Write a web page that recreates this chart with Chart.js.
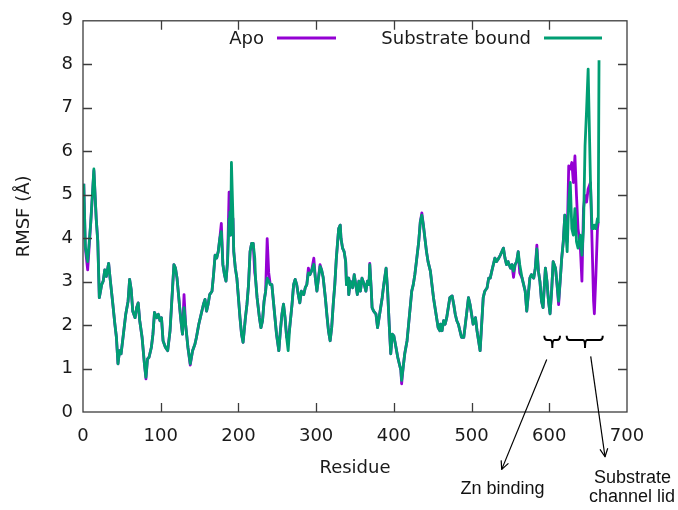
<!DOCTYPE html>
<html><head><meta charset="utf-8">
<script src="https://cdn.jsdelivr.net/npm/chart.js@4.4.1/dist/chart.umd.min.js"></script>
<style>html,body{margin:0;padding:0;background:#fff;}canvas{display:block;}</style>
</head><body>
<canvas id="c" width="678" height="510"></canvas>
<script>
// ---- data ----
const residues = [1,3,6,10,14,17,19,21,24,26,28,30,33,35,38,41,43,45,47,49,52,55,58,60,62,64,67,69,71,73,76,79,81,83,85,88,90,92,95,97,99,101,103,106,109,112,115,117,119,121,124,126,128,130,132,135,138,141,144,146,149,152,155,157,159,161,163,166,168,170,172,174,176,178,180,182,184,186,188,189,190,191,193,194,196,198,200,202,204,206,209,211,213,215,217,219,221,222,224,227,229,231,233,235,237,239,241,243,245,247,249,252,254,256,258,260,262,264,266,269,271,273,275,277,279,281,284,286,288,290,292,294,297,299,301,303,305,307,309,312,314,316,318,320,322,324,326,329,331,332,334,336,338,339,341,342,344,347,349,351,353,355,357,359,362,364,366,368,369,371,372,374,377,379,381,383,385,387,390,392,394,396,398,400,402,405,407,409,410,412,414,417,419,421,423,425,427,429,432,434,436,438,440,442,444,447,449,451,453,455,457,459,460,462,464,466,468,470,472,475,477,479,481,483,485,487,490,492,494,496,498,500,502,505,507,509,511,513,515,517,520,522,524,526,528,530,532,535,537,539,541,543,545,547,550,552,554,556,558,560,562,565,567,569,571,573,575,577,580,582,584,586,588,590,592,595,597,599,601,603,605,608,610,612,614,616,618,620,621,623,625,627,629,631,633,635,637,640,642,644,646,648,650,653,655,657,658,660,662,663,664];
const apo = [5.25,3.77,3.27,4.37,5.55,4.45,3.95,2.63,2.93,3.01,3.27,3.12,3.42,3.05,2.55,2.02,1.72,1.11,1.41,1.34,1.79,2.25,2.55,3.05,2.82,2.32,2.17,2.40,2.51,2.10,1.72,1.11,0.76,1.22,1.26,1.49,1.79,2.29,2.17,2.25,2.10,2.17,1.64,1.49,1.41,1.87,2.78,3.39,3.31,3.08,2.48,2.10,1.79,2.70,2.02,1.49,1.08,1.41,1.56,1.72,2.02,2.25,2.48,2.59,2.32,2.48,2.70,2.78,3.16,3.61,3.54,3.69,3.99,4.34,3.39,3.16,3.01,3.46,5.06,4.50,4.07,4.50,4.45,3.69,3.31,3.08,2.63,2.17,1.79,1.60,2.17,2.48,2.93,3.69,3.88,3.88,3.20,3.08,2.63,2.17,1.94,2.10,2.55,2.78,3.99,3.20,2.93,2.93,2.55,2.17,1.79,1.41,1.87,2.25,2.48,2.17,1.72,1.72,1.94,2.48,2.93,3.05,2.93,2.70,2.51,2.78,2.70,2.86,2.93,3.31,3.16,3.24,3.54,3.08,2.78,3.08,3.39,3.27,3.10,2.60,2.20,1.85,1.64,1.94,2.48,2.93,3.54,4.22,4.30,3.99,3.77,3.69,3.46,2.93,3.08,2.70,3.01,2.86,3.16,2.93,2.70,3.01,2.78,3.08,2.93,2.78,3.01,2.93,3.42,2.78,2.40,2.32,2.25,1.94,2.17,2.40,2.63,2.93,3.31,2.78,2.02,1.34,1.79,1.75,1.56,1.26,1.11,0.96,0.65,1.03,1.34,1.64,2.02,2.40,2.78,2.93,3.16,3.46,3.92,4.37,4.58,4.30,3.99,3.69,3.46,3.24,2.93,2.63,2.40,2.17,1.94,1.87,2.02,1.87,2.10,2.02,2.17,2.40,2.63,2.67,2.48,2.25,2.10,2.02,1.87,1.72,1.72,2.02,2.32,2.63,2.48,2.25,2.02,2.17,1.87,1.64,1.41,2.02,2.63,2.78,2.86,3.08,3.08,3.24,3.39,3.54,3.46,3.54,3.61,3.69,3.77,3.54,3.39,3.46,3.31,3.39,3.10,3.39,3.46,3.69,3.20,3.08,2.93,2.78,2.32,2.70,3.08,3.16,3.08,3.31,3.84,3.24,3.00,2.55,2.40,3.31,3.01,2.55,2.26,2.78,3.46,3.31,2.93,2.47,3.01,3.54,3.92,4.53,4.22,3.92,5.66,5.59,5.74,5.28,5.89,4.98,4.22,3.77,3.01,4.68,4.98,4.83,5.13,5.28,3.92,2.55,2.26,3.16,4.22,4.37,null];
const bound = [5.25,3.80,3.46,4.37,5.59,4.45,3.92,2.63,2.93,3.01,3.27,3.12,3.42,3.05,2.55,2.02,1.72,1.11,1.41,1.34,1.79,2.25,2.55,3.05,2.82,2.32,2.17,2.40,2.51,2.10,1.72,1.11,0.80,1.22,1.26,1.49,1.79,2.29,2.17,2.25,2.10,2.17,1.64,1.49,1.41,1.87,2.78,3.39,3.31,3.08,2.48,2.10,1.79,2.40,2.02,1.49,1.11,1.41,1.56,1.72,2.02,2.25,2.48,2.59,2.32,2.48,2.70,2.78,3.16,3.61,3.54,3.69,3.99,4.15,3.39,3.16,3.01,3.46,4.45,4.60,4.07,5.74,4.45,3.69,3.31,3.08,2.63,2.17,1.79,1.60,2.17,2.48,2.93,3.69,3.88,3.88,3.54,3.08,2.63,2.17,1.94,2.10,2.55,2.78,3.08,3.01,2.93,2.93,2.55,2.17,1.79,1.41,1.87,2.25,2.48,2.17,1.72,1.41,1.94,2.48,2.93,3.05,2.93,2.70,2.51,2.78,2.70,2.86,2.93,3.20,3.16,3.24,3.40,3.08,2.78,3.08,3.35,3.27,3.10,2.60,2.20,1.85,1.64,1.94,2.48,2.93,3.54,4.22,4.30,3.99,3.77,3.69,3.46,2.93,3.08,2.70,3.01,2.86,3.16,2.93,2.70,3.01,2.78,3.08,2.93,2.78,3.01,2.93,3.39,2.78,2.40,2.32,2.25,1.94,2.17,2.40,2.63,2.93,3.31,2.78,2.02,1.34,1.79,1.75,1.56,1.26,1.11,0.96,0.73,1.03,1.34,1.64,2.02,2.40,2.78,2.93,3.16,3.46,3.92,4.37,4.53,4.30,3.99,3.69,3.46,3.24,2.93,2.63,2.40,2.17,1.94,1.87,2.02,1.87,2.10,2.02,2.17,2.40,2.63,2.67,2.48,2.25,2.10,2.02,1.87,1.72,1.72,2.02,2.32,2.63,2.48,2.25,2.02,2.17,1.87,1.64,1.41,2.02,2.63,2.78,2.86,3.08,3.08,3.24,3.39,3.54,3.46,3.54,3.61,3.69,3.77,3.54,3.39,3.46,3.31,3.39,3.24,3.39,3.46,3.69,3.39,3.08,2.93,2.78,2.32,2.70,3.08,3.16,3.08,3.31,3.75,3.24,3.00,2.55,2.40,3.31,3.01,2.55,2.26,2.78,3.46,3.31,2.93,2.55,3.01,3.54,3.92,4.53,4.22,3.69,4.83,5.28,4.22,4.07,4.68,3.92,3.77,4.07,3.61,4.22,6.12,6.95,7.89,5.28,4.22,4.22,4.30,4.22,4.45,4.37,8.09];
const xTicks = [0,100,200,300,400,500,600,700];
const yTicks = [0,1,2,3,4,5,6,7,8,9];
const seriesNames = ['Apo','Substrate bound'];
const xTitle = 'Residue';
const yTitle = 'RMSF (\u00C5)';
const annotLabels = ['Zn binding', ['Substrate','channel lid']];
// ---- annotation anchors in data units (residue, RMSF) ----
const braces = [ {x1:593.6, x2:613.8, xc:603.9}, {x1:622.4, x2:668.8, xc:646} ];
const braceY = {top:1.754, mid:1.656, bot:1.474};
const arrows = [ {from:[596.7,1.21], to:[538.8,-1.32]}, {from:[653.3,1.28], to:[671.7,-1.03]} ];

const COL_APO = '#9400D3', COL_BOUND = '#009E73';
const FONT = 'DejaVu Sans';
const TXT = '#1a1a1a';

const pts = ys => residues.map((r,i)=>({x:r,y:ys[i]}));

const framePlugin = {
  id:'frame',
  afterDraw(chart){
    const {ctx, chartArea:a, scales:{x,y}} = chart;
    ctx.save();
    ctx.strokeStyle = '#3c3c3c'; ctx.lineWidth = 1.3;
    ctx.strokeRect(a.left, a.top, a.right-a.left, a.bottom-a.top);
    ctx.beginPath();
    xTicks.forEach(v=>{ const px = Math.round(x.getPixelForValue(v))+0.5;
      if(v>0 && v<700){ ctx.moveTo(px,a.bottom); ctx.lineTo(px,a.bottom-9); ctx.moveTo(px,a.top); ctx.lineTo(px,a.top+9);} });
    yTicks.forEach(v=>{ const py = Math.round(y.getPixelForValue(v))+0.5;
      if(v>0 && v<9){ ctx.moveTo(a.left,py); ctx.lineTo(a.left+9,py); ctx.moveTo(a.right,py); ctx.lineTo(a.right-9,py);} });
    ctx.stroke();
    // legend (gnuplot style: text then sample)
    ctx.font = '18px "'+FONT+'"'; ctx.fillStyle = TXT; ctx.textAlign='right'; ctx.textBaseline='middle';
    const ly = 39;
    ctx.fillText(seriesNames[0], 264, ly);
    ctx.fillText(seriesNames[1], 531, ly);
    ctx.lineWidth = 2.8;
    ctx.strokeStyle = COL_APO; ctx.beginPath(); ctx.moveTo(277,38); ctx.lineTo(336,38); ctx.stroke();
    ctx.strokeStyle = COL_BOUND; ctx.beginPath(); ctx.moveTo(544,38); ctx.lineTo(602,38); ctx.stroke();
    // braces
    ctx.strokeStyle = '#000'; ctx.lineWidth = 2; ctx.lineJoin='round';
    const yt = y.getPixelForValue(braceY.top), ym = y.getPixelForValue(braceY.mid), yb = y.getPixelForValue(braceY.bot);
    braces.forEach(b=>{
      const x1 = x.getPixelForValue(b.x1), x2 = x.getPixelForValue(b.x2), xc = x.getPixelForValue(b.xc);
      ctx.beginPath();
      ctx.moveTo(x1, yt); ctx.quadraticCurveTo(x1, ym, x1+3, ym);
      ctx.lineTo(xc-2, ym); ctx.quadraticCurveTo(xc, ym, xc, yb);
      ctx.moveTo(x2, yt); ctx.quadraticCurveTo(x2, ym, x2-3, ym);
      ctx.lineTo(xc+2, ym); ctx.quadraticCurveTo(xc, ym, xc, yb);
      ctx.stroke();
    });
    // arrows
    ctx.lineWidth = 1.2;
    arrows.forEach(ar=>{
      const fx = x.getPixelForValue(ar.from[0]), fy = y.getPixelForValue(ar.from[1]);
      const tx = x.getPixelForValue(ar.to[0]), ty = y.getPixelForValue(ar.to[1]);
      ctx.beginPath(); ctx.moveTo(fx,fy); ctx.lineTo(tx,ty); ctx.stroke();
      const ang = Math.atan2(ty-fy, tx-fx), L = 9, w = 0.45;
      ctx.beginPath();
      ctx.moveTo(tx - L*Math.cos(ang-w), ty - L*Math.sin(ang-w));
      ctx.lineTo(tx, ty);
      ctx.lineTo(tx - L*Math.cos(ang+w), ty - L*Math.sin(ang+w));
      ctx.stroke();
    });
    // annotation text
    ctx.font = '18px "Liberation Sans", Arial, sans-serif'; ctx.fillStyle = '#111';
    ctx.textAlign='center'; ctx.textBaseline='alphabetic';
    ctx.fillText(annotLabels[0], 502.5, 494);
    ctx.fillText(annotLabels[1][0], 632.5, 483);
    ctx.fillText(annotLabels[1][1], 632, 502);
    ctx.restore();
  }
};

new Chart(document.getElementById('c'), {
  type:'line',
  data:{ datasets:[
    {label:seriesNames[1], data:pts(bound), borderColor:COL_BOUND, borderWidth:2.8, pointRadius:0, tension:0, order:0, borderJoinStyle:'round'},
    {label:seriesNames[0], data:pts(apo), borderColor:COL_APO, borderWidth:2.8, pointRadius:0, tension:0, order:1, borderJoinStyle:'round'}
  ]},
  options:{
    responsive:false, animation:false, devicePixelRatio:1,
    layout:{padding:{left:0,right:51,top:17,bottom:0}},
    plugins:{legend:{display:false}, tooltip:{enabled:false}},
    scales:{
      x:{ type:'linear', min:0, max:700,
          afterBuildTicks:s=>{ s.ticks = xTicks.map(v=>({value:v})); },
          afterFit:s=>{ s.height = 98; },
          grid:{display:false, drawTicks:false}, border:{display:false},
          ticks:{padding:14, autoSkip:false, maxRotation:0, color:TXT, font:{family:FONT, size:18}},
          title:{display:true, text:xTitle, color:TXT, font:{family:FONT, size:18}, padding:{top:0,bottom:31}} },
      y:{ type:'linear', min:0, max:9,
          afterBuildTicks:s=>{ s.ticks = yTicks.map(v=>({value:v})); },
          afterFit:s=>{ s.width = 83; },
          grid:{display:false, drawTicks:false}, border:{display:false},
          ticks:{padding:10, color:TXT, font:{family:FONT, size:18}},
          title:{display:true, text:yTitle, color:TXT, font:{family:FONT, size:18}, padding:{top:14,bottom:0}} }
    }
  },
  plugins:[framePlugin]
});
</script>
</body></html>
